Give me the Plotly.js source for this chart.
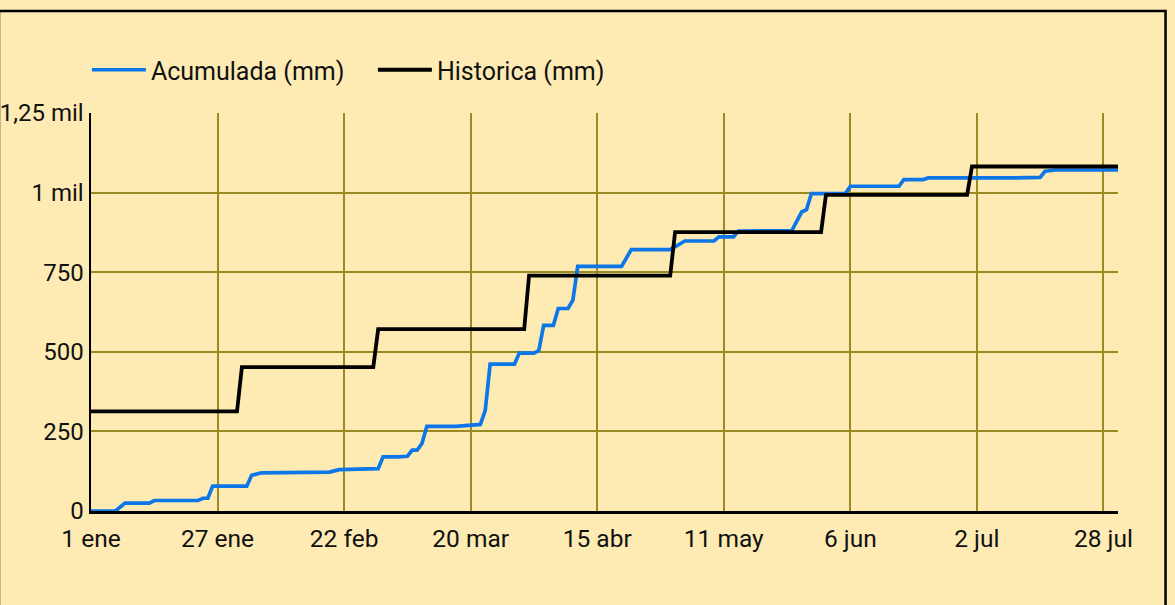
<!DOCTYPE html>
<html>
<head>
<meta charset="utf-8">
<script src="https://cdn.plot.ly/plotly-3.0.1.min.js"></script>
<style>
  html, body { margin: 0; padding: 0; background: #FEEBB3; overflow: hidden; }
  #chart { width: 1175px; height: 605px; }
</style>
</head>
<body>
<div id="chart"></div>
<script>
// Acumulada (mm): cumulative rainfall breakpoints
const acumFechas = [
  '2023-01-01','2023-01-06','2023-01-08','2023-01-13','2023-01-14','2023-01-23','2023-01-24','2023-01-25','2023-01-26',
  '2023-02-02','2023-02-03','2023-02-05','2023-02-19','2023-02-21',
  '2023-03-01','2023-03-02','2023-03-05','2023-03-07','2023-03-08','2023-03-09','2023-03-10','2023-03-11','2023-03-17',
  '2023-03-22','2023-03-23','2023-03-24','2023-03-29','2023-03-30',
  '2023-04-02','2023-04-03','2023-04-04','2023-04-06','2023-04-07','2023-04-09','2023-04-10','2023-04-11','2023-04-20',
  '2023-04-22','2023-04-30',
  '2023-05-01','2023-05-03','2023-05-09','2023-05-10','2023-05-13','2023-05-14','2023-05-25','2023-05-27','2023-05-28','2023-05-29',
  '2023-06-05','2023-06-06','2023-06-16','2023-06-17','2023-06-21','2023-06-22',
  '2023-07-10','2023-07-15','2023-07-16','2023-07-18','2023-07-31'
];
const acumValores = [
  0,0,25,25,33,33,40,40,78,
  78,112,120,122,130,
  133,170,170,172,191,191,212,266,266,
  272,316,461,461,496,
  496,504,583,583,636,636,662,768,768,
  821,821,
  831,848,848,861,861,879,881,939,946,997,
  997,1020,1020,1041,1041,1046,
  1046,1048,1067,1071,1071
];

// Historica (mm): monthly historical cumulative values
const histFechas = [
  '2023-01-01','2023-01-31','2023-02-01','2023-02-28','2023-03-01','2023-03-31','2023-04-01','2023-04-30',
  '2023-05-01','2023-05-31','2023-06-01','2023-06-30','2023-07-01','2023-07-31'
];
const histValores = [313,313,452,452,571,571,739,739,876,876,993,993,1082,1082];

// Axis ticks
const xTickVals = ['2023-01-01','2023-01-27','2023-02-22','2023-03-20','2023-04-15','2023-05-11','2023-06-06','2023-07-02','2023-07-28'];
const xTickText = ['1 ene','27 ene','22 feb','20 mar','15 abr','11 may','6 jun','2 jul','28 jul'];
const yTickVals = [0,250,500,750,1000,1250];
const yTickText = ['0','250','500','750','1 mil','1,25 mil'];

const FONT = 'Roboto, "Noto Sans", sans-serif';
const BG = '#FEEBB3';
const GRID = '#9A8A22';

const traces = [
  {
    x: acumFechas, y: acumValores, type: 'scatter', mode: 'lines',
    name: 'Acumulada (mm)',
    line: { color: '#0D76E8', width: 3.7, shape: 'linear' },
    hoverinfo: 'skip'
  },
  {
    x: histFechas, y: histValores, type: 'scatter', mode: 'lines',
    name: 'Historica (mm)',
    line: { color: '#000000', width: 3.8, shape: 'linear' },
    hoverinfo: 'skip'
  }
];

const layout = {
  width: 1175, height: 605,
  margin: { l: 91, r: 57, t: 113, b: 94, pad: 0 },
  paper_bgcolor: BG, plot_bgcolor: BG,
  font: { family: FONT, size: 24.5, color: '#111111' },
  showlegend: true,
  legend: {
    orientation: 'h', x: -0.004, xanchor: 'left', y: 1.108, yanchor: 'middle',
    bgcolor: 'rgba(0,0,0,0)', font: { family: FONT, size: 25, color: '#111111' },
    itemwidth: 54, entrywidth: 217, entrywidthmode: 'pixels',
    traceorder: 'normal', itemclick: false, itemdoubleclick: false
  },
  xaxis: {
    type: 'date', range: ['2023-01-01', '2023-07-31'],
    tickmode: 'array', tickvals: xTickVals, ticktext: xTickText,
    showgrid: true, gridcolor: GRID, gridwidth: 2,
    showline: true, linecolor: '#000000', linewidth: 2.5,
    zeroline: false, ticks: '', ticklabelstandoff: 4,
    layer: 'below traces', fixedrange: true
  },
  yaxis: {
    range: [0, 1250],
    tickmode: 'array', tickvals: yTickVals, ticktext: yTickText,
    tickfont: { family: FONT, size: 24, color: '#111111' },
    showgrid: true, gridcolor: GRID, gridwidth: 2,
    showline: true, linecolor: '#000000', linewidth: 2.5,
    zeroline: false, ticks: '', ticklabelstandoff: 0,
    layer: 'below traces', fixedrange: true
  },
  shapes: [
    {
      type: 'rect', xref: 'paper', yref: 'paper',
      x0: -0.0896, x1: 1.0463, y0: -0.3, y1: 1.2563,
      line: { color: '#000000', width: 2.5 }, fillcolor: 'rgba(0,0,0,0)', layer: 'above'
    }
  ]
};

Plotly.newPlot('chart', traces, layout, { displayModeBar: false, staticPlot: true });
</script>
</body>
</html>
